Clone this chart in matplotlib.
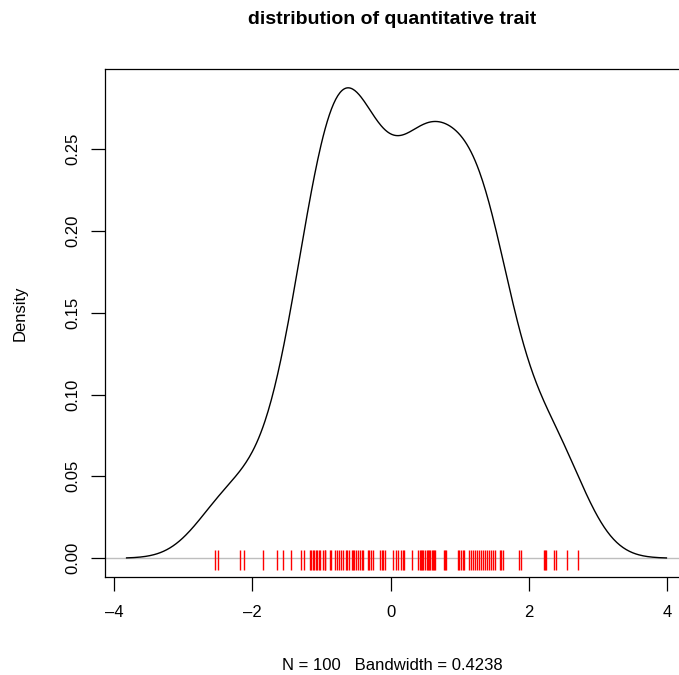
import numpy as np
import matplotlib
matplotlib.use("Agg")
import matplotlib.pyplot as plt
import matplotlib.transforms as mtransforms

plt.rcParams['font.family'] = ['Liberation Sans', 'DejaVu Sans']

trait_values = [
    -2.544, -2.492, -2.182, -2.116, -1.838, -1.638, -1.551,
    -1.440, -1.300, -1.252,
    -1.169, -1.148, -1.127, -1.106, -1.085, -1.064, -1.042,
    -1.020, -0.984, -0.950, -0.948,
    -0.876, -0.857,
    -0.803, -0.774, -0.745, -0.721,
    -0.683, -0.648, -0.625, -0.600,
    -0.557, -0.540, -0.528, -0.499, -0.470,
    -0.441, -0.419, -0.397, -0.331, -0.309, -0.287,
    -0.253,
    -0.156, -0.130, -0.109, -0.084,
    0.041, 0.075, 0.110, 0.145, 0.175, 0.195,
    0.315,
    0.388, 0.422, 0.439, 0.456, 0.473, 0.490, 0.524, 0.541,
    0.558, 0.575, 0.592, 0.609, 0.626, 0.644,
    0.767, 0.780, 0.796,
    0.977, 0.990, 1.016, 1.040,
    1.063,
    1.136, 1.164, 1.193, 1.221, 1.249, 1.278, 1.306, 1.334, 1.362, 1.391,
    1.419, 1.447, 1.476, 1.504, 1.585, 1.600,
    1.618,
    1.860, 1.884,
    2.211, 2.230, 2.246,
    2.356, 2.391,
    2.550,
    2.713,
]
bandwidth = 0.4238
title_text = "distribution of quantitative trait"
xlabel_text = "N = 100   Bandwidth = 0.4238"
ylabel_text = "Density"
x_ticks = [-4, -2, 0, 2, 4]
y_ticks = [0.00, 0.05, 0.10, 0.15, 0.20, 0.25]

x = np.array(trait_values)
grid = np.linspace(x.min() - 3 * bandwidth, x.max() + 3 * bandwidth, 512)
dens = np.exp(-0.5 * ((grid[:, None] - x[None, :]) / bandwidth) ** 2).sum(axis=1)
dens /= (len(x) * bandwidth * np.sqrt(2 * np.pi))

W, H = 679, 675
fig = plt.figure(figsize=(W / 100, H / 100), dpi=100)
left, right, top, bottom = 105, 688, 69, 577
ax = fig.add_axes([left / W, 1 - bottom / H, (right - left) / W, (bottom - top) / H])

xr = grid.max() - grid.min()
ax.set_xlim(grid.min() - 0.04 * xr, grid.max() + 0.04 * xr)
yr = dens.max()
ax.set_ylim(-0.04 * yr, dens.max() + 0.04 * yr)

ax.axhline(0, color='#bebebe', lw=1.0, zorder=1)
ax.plot(grid, dens, color='black', lw=1.0, zorder=3)
trans = mtransforms.blended_transform_factory(ax.transData, ax.transAxes)
ax.vlines(x, 0.0142, 0.0535, transform=trans, color='red', lw=1.0, zorder=2)

for s in ax.spines.values():
    s.set_linewidth(0.9)
ax.set_xticks(x_ticks)
ax.set_xticklabels([str(t).replace('-', '\u2013') for t in x_ticks])
ax.set_yticks(y_ticks)
ax.set_yticklabels([f"{t:.2f}" for t in y_ticks], rotation=90, va='center')
ax.tick_params(axis='both', length=10, width=0.9, labelsize=12)
ax.tick_params(axis='x', pad=10)
ax.tick_params(axis='y', pad=8)

fig.text(392 / W, 1 - 20 / H, title_text, ha='center', va='center',
         fontsize=14, fontweight='bold')
fig.text(392 / W, 1 - 665 / H, xlabel_text, ha='center', va='center', fontsize=12)
fig.text(20 / W, 1 - 313 / H, ylabel_text, ha='center', va='center',
         fontsize=12, rotation=90)

fig.savefig("out.png", dpi=100)
